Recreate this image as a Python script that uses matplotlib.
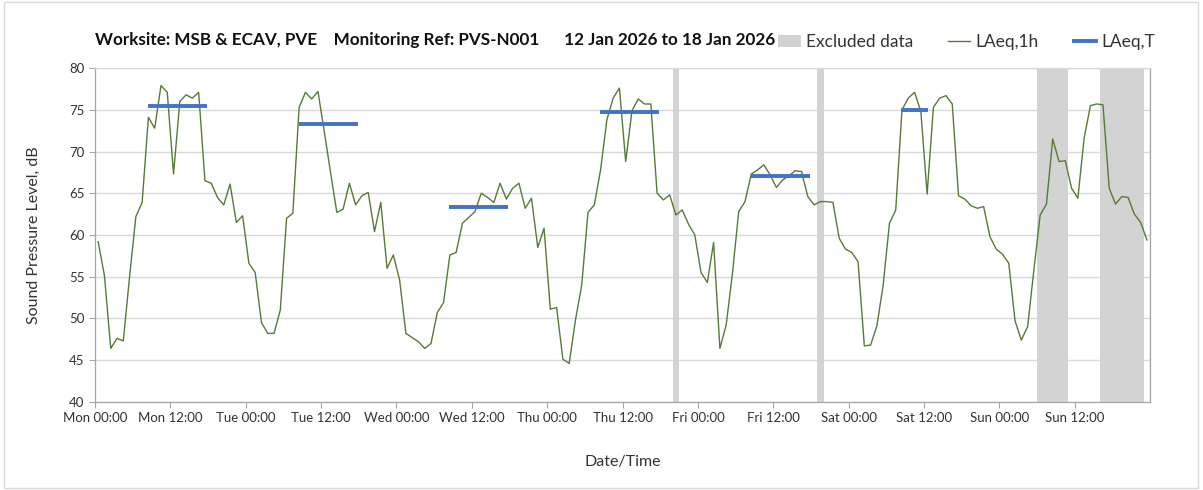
import matplotlib
matplotlib.use("Agg")
import matplotlib.pyplot as plt
import numpy as np
from matplotlib.lines import Line2D
from matplotlib.patches import Patch, Rectangle

# hourly LAeq,1h readings, Mon 00:00 to Sun 24:00 (plotted at mid-hour)
laeq_1h = [
    59.2, 55.1, 46.4, 47.6, 47.3, 55.0, 62.2, 63.9, 74.1, 72.8, 77.9, 77.1,
    67.3, 76.0, 76.8, 76.4, 77.1, 66.5, 66.2, 64.5, 63.6, 66.1, 61.5, 62.3,
    56.6, 55.5, 49.5, 48.2, 48.2, 51.0, 62.0, 62.6, 75.3, 77.1, 76.3, 77.2,
    72.4, 67.5, 62.7, 63.1, 66.2, 63.6, 64.7, 65.1, 60.4, 63.9, 56.0, 57.6,
    54.6, 48.2, 47.7, 47.2, 46.4, 47.0, 50.7, 51.9, 57.6, 57.9, 61.4, 62.1,
    62.8, 65.0, 64.5, 63.9, 66.2, 64.3, 65.6, 66.2, 63.2, 64.4, 58.5, 60.8,
    51.1, 51.3, 45.1, 44.6, 49.8, 54.0, 62.7, 63.6, 67.8, 73.8, 76.4, 77.6,
    68.8, 74.9, 76.3, 75.7, 75.7, 65.0, 64.2, 64.8, 62.4, 63.0, 61.3, 60.0,
    55.5, 54.3, 59.1, 46.4, 49.2, 55.4, 62.8, 64.0, 67.3, 67.8, 68.4, 67.2,
    65.7, 66.6, 67.1, 67.7, 67.6, 64.6, 63.6, 64.0, 64.0, 63.9, 59.6, 58.3,
    57.9, 56.8, 46.7, 46.8, 49.1, 54.0, 61.4, 63.0, 75.0, 76.4, 77.1, 74.8,
    64.9, 75.3, 76.4, 76.7, 75.7, 64.7, 64.3, 63.5, 63.2, 63.4, 59.8, 58.3,
    57.7, 56.6, 49.7, 47.4, 49.0, 55.8, 62.4, 63.7, 71.5, 68.8, 68.9, 65.6,
    64.4, 71.6, 75.5, 75.7, 75.6, 65.6, 63.7, 64.6, 64.5, 62.5, 61.5, 59.4,
]

# LAeq,T daytime levels (hours from Mon 00:00)
laeq_t_start = [8.4, 32.4, 56.4, 80.4, 104.4, 128.4]
laeq_t_end = [17.8, 41.8, 65.8, 89.8, 113.8, 132.7]
laeq_t_value = [75.5, 73.3, 63.3, 74.7, 67.1, 75.0]

# excluded periods (hours from Mon 00:00)
excl_start = [92, 115, 150, 160]
excl_end = [93, 116, 155, 167]

days = ["Mon", "Tue", "Wed", "Thu", "Fri", "Sat", "Sun"]
tick_labels = []
for d in days:
    tick_labels += [d + " 00:00", d + " 12:00"]

plt.rcParams['font.family'] = ['Lato', 'DejaVu Sans']

fig = plt.figure(figsize=(12.03, 4.9), dpi=100)
ax = fig.add_axes([0.079, 0.180, 0.877, 0.681])

hours = np.arange(len(laeq_1h)) + 0.5

for s, e in zip(excl_start, excl_end):
    ax.axvspan(s, e, color="#d3d3d3", lw=0, zorder=1)

ax.plot(hours, laeq_1h, color="#567a38", lw=1.0, zorder=3)
ax.hlines(laeq_t_value, laeq_t_start, laeq_t_end, color="#4472c4", lw=2.8, zorder=4)

ax.set_xlim(0, 168)
ax.set_ylim(40, 80)
ax.set_yticks(np.arange(40, 81, 5))
ax.set_xticks(np.arange(0, 168, 12))
ax.set_xticklabels(tick_labels, fontsize=9.5, color="#333333")
ax.tick_params(axis="y", labelsize=9.5, colors="#333333", length=4, color="#a6a6a6")
ax.tick_params(axis="x", length=4, color="#a6a6a6")
ax.set_xticks(np.arange(0, 169, 24), minor=True)
ax.tick_params(axis="x", which="minor", length=0)

ax.grid(axis="y", color="#d9d9d9", lw=1.0, zorder=0)
ax.grid(axis="x", which="minor", color="#d9d9d9", lw=1.0, zorder=0)
ax.set_axisbelow(True)
for sp in ax.spines.values():
    sp.set_color("#a6a6a6")
    sp.set_linewidth(0.9)
ax.spines["top"].set_color("#d9d9d9")

ax.set_ylabel("Sound Pressure Level, dB", fontsize=11.5, color="#333333", labelpad=20)
ax.set_xlabel("Date/Time", fontsize=11.5, color="#333333", labelpad=22)

fig.text(95 / 1203, 1 - 40 / 490,
         "Worksite: MSB & ECAV, PVE    Monitoring Ref: PVS-N001      12 Jan 2026 to 18 Jan 2026",
         fontsize=12.3, fontweight="bold", va="center", ha="left", color="#111111")

handles = [
    Patch(facecolor="#d3d3d3", edgecolor="none"),
    Line2D([0], [0], color="#567a38", lw=1.0),
    Line2D([0], [0], color="#4472c4", lw=2.8),
]
fig.legend(handles, ["Excluded data", "LAeq,1h", "LAeq,T"],
           loc="center left", bbox_to_anchor=(778 / 1203, 1 - 42 / 490),
           ncol=3, frameon=False, fontsize=12.5, handlelength=1.3,
           handletextpad=0.3, columnspacing=2.0, labelcolor="#333333",
           borderaxespad=0, borderpad=0)

fig.patches.append(Rectangle((4 / 1203, 0.005), 1194 / 1203, 0.99, transform=fig.transFigure,
                             fill=False, edgecolor="#d9d9d9", lw=1.0))

fig.savefig("out.png", dpi=100)
